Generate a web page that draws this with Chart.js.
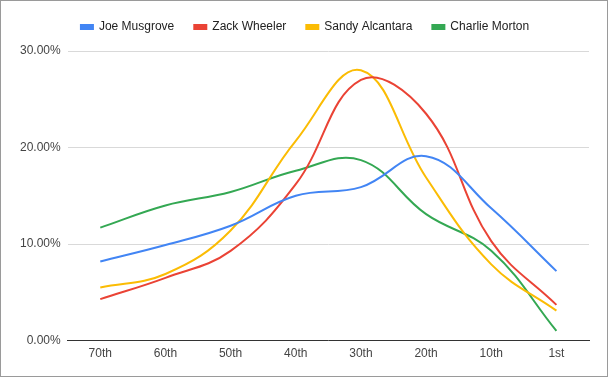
<!DOCTYPE html>
<html>
<head>
<meta charset="utf-8">
<script src="https://cdn.jsdelivr.net/npm/chart.js@4"></script>
<style>
  html, body { margin: 0; padding: 0; background: #fff; }
  #wrap { width: 608px; height: 377px; box-sizing: border-box; border: 1px solid #9a9a9a; position: relative; }
  #chart { display: block; }
</style>
</head>
<body>
<div id="wrap"><canvas id="chart" width="606" height="375"></canvas></div>
<script>
const categories = ['70th', '60th', '50th', '40th', '30th', '20th', '10th', '1st'];
const joeMusgrove = [8.2, 9.9, 11.9, 15.0, 15.9, 19.1, 13.7, 7.2];
const zackWheeler = [4.3, 6.5, 9.3, 16.2, 27.0, 23.5, 10.3, 3.7];
const sandyAlcantara = [5.5, 6.9, 11.4, 20.7, 28.0, 16.9, 7.9, 3.1];
const charlieMorton = [11.7, 14.0, 15.4, 17.6, 18.7, 13.1, 9.3, 1.0];
const yTicks = [0, 10, 20, 30];

const ctx = document.getElementById('chart').getContext('2d');

function serie(label, data, color) {
  return {
    label,
    data,
    borderColor: color,
    backgroundColor: color,
    borderWidth: 2,
    pointRadius: 0,
    tension: 0.4,
    fill: false
  };
}

// espaço extra abaixo da legenda + pequeno deslocamento horizontal
const legendGap = {
  id: 'legendGap',
  beforeInit(chart) {
    const fit = chart.legend.fit;
    chart.legend.fit = function () {
      fit.bind(chart.legend)();
      this.height += 8;
    };
  },
  afterLayout(chart) {
    chart.legend.left += 4;
    chart.legend.right += 4;
  }
};

new Chart(ctx, {
  type: 'line',
  data: {
    labels: categories,
    datasets: [
      serie('Joe Musgrove', joeMusgrove, '#4285f4'),
      serie('Zack Wheeler', zackWheeler, '#ea4335'),
      serie('Sandy Alcantara', sandyAlcantara, '#fbbc04'),
      serie('Charlie Morton', charlieMorton, '#34a853')
    ]
  },
  plugins: [legendGap],
  options: {
    responsive: false,
    animation: false,
    layout: { padding: { left: 12, right: 18, top: 0, bottom: 9 } },
    scales: {
      x: {
        offset: true,
        grid: { display: false, drawTicks: false },
        border: { color: '#333', width: 1 },
        ticks: { color: '#444', font: { family: 'Arial', size: 12 }, padding: 6 }
      },
      y: {
        min: 0,
        max: 30,
        afterBuildTicks: axis => { axis.ticks = yTicks.map(v => ({ value: v })); },
        grid: { color: '#d9d9d9', drawTicks: false },
        border: { display: false },
        ticks: {
          color: '#444',
          font: { family: 'Arial', size: 12 },
          padding: 7,
          callback: v => v.toFixed(2) + '%'
        }
      }
    },
    plugins: {
      legend: {
        display: true,
        position: 'top',
        labels: {
          boxWidth: 12,
          boxHeight: 4,
          padding: 20,
          color: '#222',
          font: { family: 'Arial', size: 12 }
        }
      },
      tooltip: { enabled: false }
    }
  }
});
</script>
</body>
</html>
